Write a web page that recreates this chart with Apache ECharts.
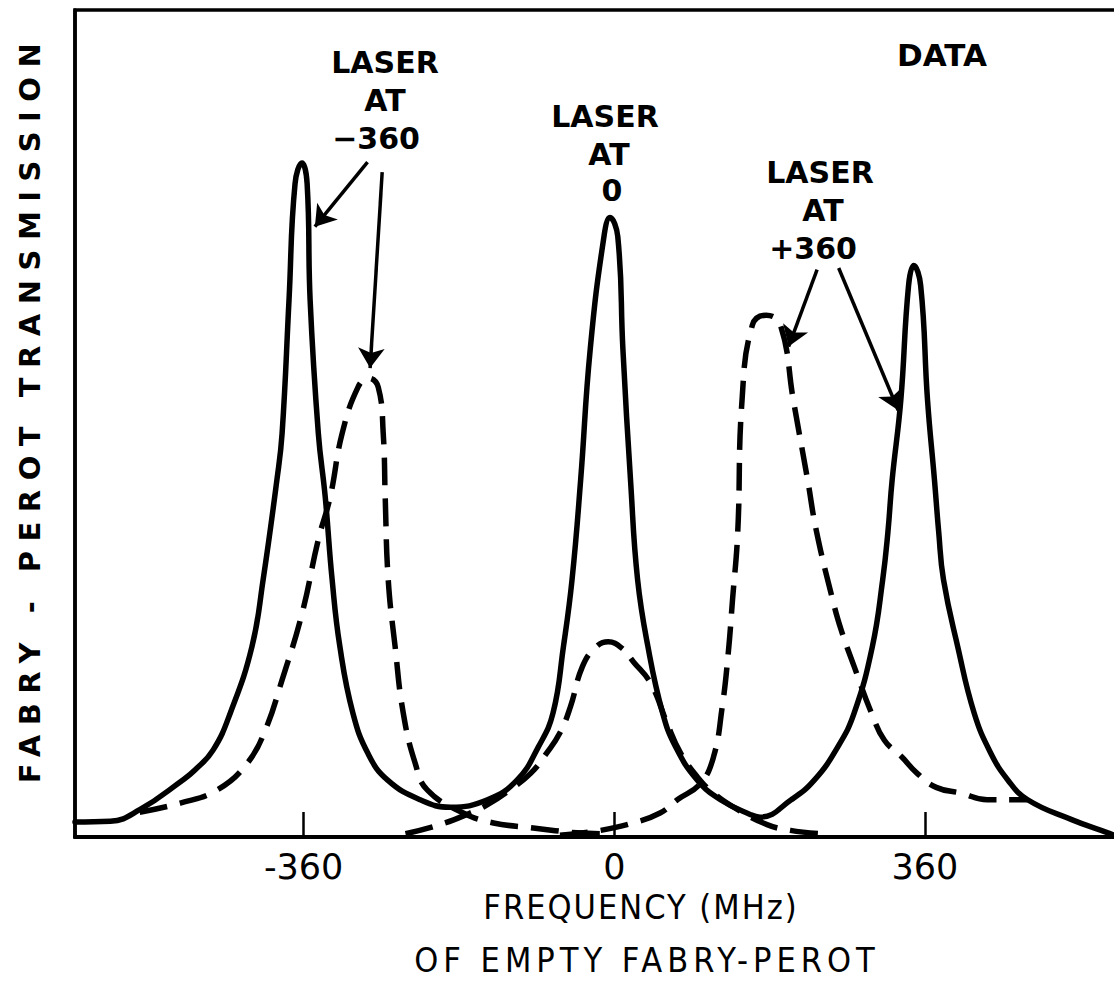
<!DOCTYPE html>
<html>
<head>
<meta charset="utf-8">
<script src="https://cdn.jsdelivr.net/npm/echarts@6/dist/echarts.min.js"></script>
<style>
html,body{margin:0;padding:0;background:#fff}
#c{width:1114px;height:991px}
</style>
</head>
<body>
<div id="c"></div>
<script>
// ---- data (frequency in MHz, transmission in arbitrary units 0-100) ----
const tickValues = [-360, 0, 360];

// solid: empty Fabry-Perot transmission
const emptyX = [-625, -584, -550, -500, -486, -465, -445, -420, -407, -391, -385, -377, -370, -362, -356, -352.5, -343, -335, -327, -318, -303, -285, -263, -225, -190, -147, -112.5, -88, -71, -59, -49, -39, -28, -12, -5, 4, 10, 19, 27, 39, 56, 71, 96, 123, 158, 169, 205, 232, 259, 278, 299, 311, 317, 322, 332, 341, 347, 355, 363, 371, 376, 381.5, 398, 417, 436, 456, 479, 530, 572, 580];
const emptyY = [1.8, 1.9, 3.3, 6.9, 8.1, 10.5, 15.0, 23.0, 31.1, 43.2, 48.8, 64.9, 79.0, 81.5, 79.0, 64.9, 48.8, 41.1, 31.1, 23.0, 15.0, 10.0, 6.9, 4.5, 3.6, 4.5, 6.9, 10.9, 15.0, 23.0, 31.1, 43.2, 58.9, 72.6, 74.9, 72.6, 58.9, 42.8, 31.1, 23.0, 15.0, 10.9, 6.9, 4.5, 2.7, 2.4, 4.5, 6.9, 10.9, 15.0, 23.0, 31.1, 36.8, 43.2, 52.8, 66.7, 69.1, 66.7, 52.8, 43.2, 36.8, 31.1, 23.0, 15.0, 10.2, 6.9, 4.5, 2.1, 0.5, 0.2];

// dashed: laser at -360
const laserM360X = [-550, -503, -460, -425.5, -404.6, -385, -361.7, -343.2, -329.3, -315.4, -297, -285, -273.6, -267.8, -265.5, -262, -254, -244.6, -230.7, -216.8, -175, -140, -94, -43, -16];
const laserM360Y = [3.0, 4.1, 5.7, 8.9, 12.9, 19.0, 27.1, 35.9, 41.1, 48.8, 54.4, 55.5, 54.4, 48.8, 41.1, 31.1, 23.0, 15.0, 8.9, 5.7, 2.9, 1.7, 1.1, 0.5, 0.4];

// dashed: laser at 0
const laser0X = [-242, -202, -167, -147, -121, -97, -78, -63, -51, -37, -22, -7, 8, 22, 42, 61, 76.5, 96, 115, 143, 177, 204, 239];
const laser0Y = [0.4, 1.5, 2.9, 3.9, 5.7, 7.7, 10.2, 12.6, 15.7, 20.6, 22.9, 23.6, 22.9, 21.2, 18.6, 13.8, 10.2, 7.3, 5.3, 3.3, 1.5, 0.8, 0.4];

// dashed: laser at +360
const laserP360X = [-63, -16, 22, 53, 73, 100, 115, 125, 132, 137, 143, 148, 160, 176, 192.5, 207.5, 224, 234, 253, 263, 278, 298, 313, 333, 351, 373, 402, 432, 464, 479];
const laserP360Y = [0.2, 0.8, 1.7, 2.9, 4.5, 6.5, 9.7, 15.7, 22.2, 28.7, 36.8, 52.8, 61.9, 63.1, 61.9, 52.8, 43.2, 37.1, 28.7, 25.0, 20.6, 15.0, 11.7, 9.7, 7.7, 6.0, 5.3, 4.5, 4.5, 4.5];

// annotation arrows (start -> end, in data units)
const arrowFromX = [-286, -269, 235, 260];
const arrowFromY = [81.6, 80.4, 68.6, 68.8];
const arrowToX = [-347, -283, 202, 329];
const arrowToY = [73.8, 56.7, 59.3, 51.6];

const yTitle = 'FABRY - PEROT TRANSMISSION';
const xTitle1 = 'FREQUENCY (MHz)';
const xTitle2 = 'OF EMPTY FABRY-PEROT';

// ---- build ----
const zip = (xs, ys) => xs.map((x, i) => [x, ys[i]]);
const arrows = arrowFromX.map((x, i) => [
  { coord: [x, arrowFromY[i]] },
  { coord: [arrowToX[i], arrowToY[i]] }
]);

const FONT = '"DejaVu Sans", "Liberation Sans", sans-serif';
const NARROW = '"DejaVu Sans Condensed", "Liberation Sans Narrow", "DejaVu Sans", sans-serif';
const solidStyle = { color: '#000', width: 5.5, type: 'solid', cap: 'round', join: 'round' };
const dashStyle = { color: '#000', width: 5.5, type: [28, 13], cap: 'butt', join: 'round' };

function annot(text, x, y, size, weight, family) {
  return {
    type: 'text', x: x, y: y, silent: true,
    style: {
      text: text, fill: '#000', textAlign: 'center', textVerticalAlign: 'middle',
      fontSize: size, fontWeight: weight || 'bold', fontFamily: family || FONT
    }
  };
}

const lineSeries = (name, xs, ys, style) => ({
  type: 'line', name: name, data: zip(xs, ys), showSymbol: false,
  smooth: 0.45, lineStyle: style, silent: true
});

const chart = echarts.init(document.getElementById('c'), null, { renderer: 'svg' });
const solid = lineSeries('empty Fabry-Perot', emptyX, emptyY, solidStyle);
solid.markLine = {
  silent: true, symbol: ['none', 'arrow'], symbolSize: 20,
  lineStyle: { color: '#000', width: 3.5, type: 'solid' },
  label: { show: false }, emphasis: { disabled: true },
  data: arrows
};

chart.setOption({
  animation: false,
  backgroundColor: '#fff',
  grid: {
    left: 75, top: 10, right: -31, bottom: 154,
    show: true, borderColor: '#000', borderWidth: 3.5, backgroundColor: 'transparent',
    containLabel: false, outerBoundsMode: 'none'
  },
  xAxis: {
    type: 'value', min: -625, max: 615,
    axisLine: { show: true, onZero: false, lineStyle: { color: '#000', width: 4 } },
    axisTick: { show: true, inside: true, length: 25, customValues: tickValues, lineStyle: { color: '#000', width: 2.5 } },
    axisLabel: { show: true, customValues: tickValues, margin: 12, color: '#000', fontSize: 35, fontFamily: FONT, formatter: v => String(v) },
    splitLine: { show: false }
  },
  yAxis: {
    type: 'value', min: 0, max: 100,
    axisLine: { show: true, onZero: false, lineStyle: { color: '#000', width: 3.5 } },
    axisTick: { show: false }, axisLabel: { show: false }, splitLine: { show: false },
    name: yTitle, nameLocation: 'middle', nameGap: 31, nameRotate: 90,
    nameTextStyle: { color: '#000', fontSize: 29, fontWeight: 'bold', fontFamily: FONT, padding: [0, 0, 0, 30] }
  },
  series: [
    lineSeries('laser -360', laserM360X, laserM360Y, dashStyle),
    lineSeries('laser 0', laser0X, laser0Y, dashStyle),
    lineSeries('laser +360', laserP360X, laserP360Y, dashStyle),
    solid
  ],
  graphic: [
    annot('LASER', 385, 62, 30), annot('AT', 385, 100, 30), annot('\u2212360', 376, 138, 30),
    annot('LASER', 605, 116, 30), annot('AT', 609, 154, 30), annot('0', 612, 190, 30),
    annot('LASER', 820, 172, 30), annot('AT', 823, 210, 30), annot('+360', 813, 248, 30),
    annot('DATA', 942, 55, 31),
    annot(xTitle1, 641, 907, 34, 'normal', NARROW),
    annot(xTitle2, 647, 960, 34, 'normal', NARROW)
  ]
});

// letter spacing for the spaced-out hand lettering
const spacing = {};
spacing[yTitle] = 9.5; spacing[xTitle1] = 2; spacing[xTitle2] = 5;
document.querySelectorAll('#c text').forEach(t => {
  const s = spacing[t.textContent];
  if (s) t.style.letterSpacing = s + 'px';
});
</script>
</body>
</html>
